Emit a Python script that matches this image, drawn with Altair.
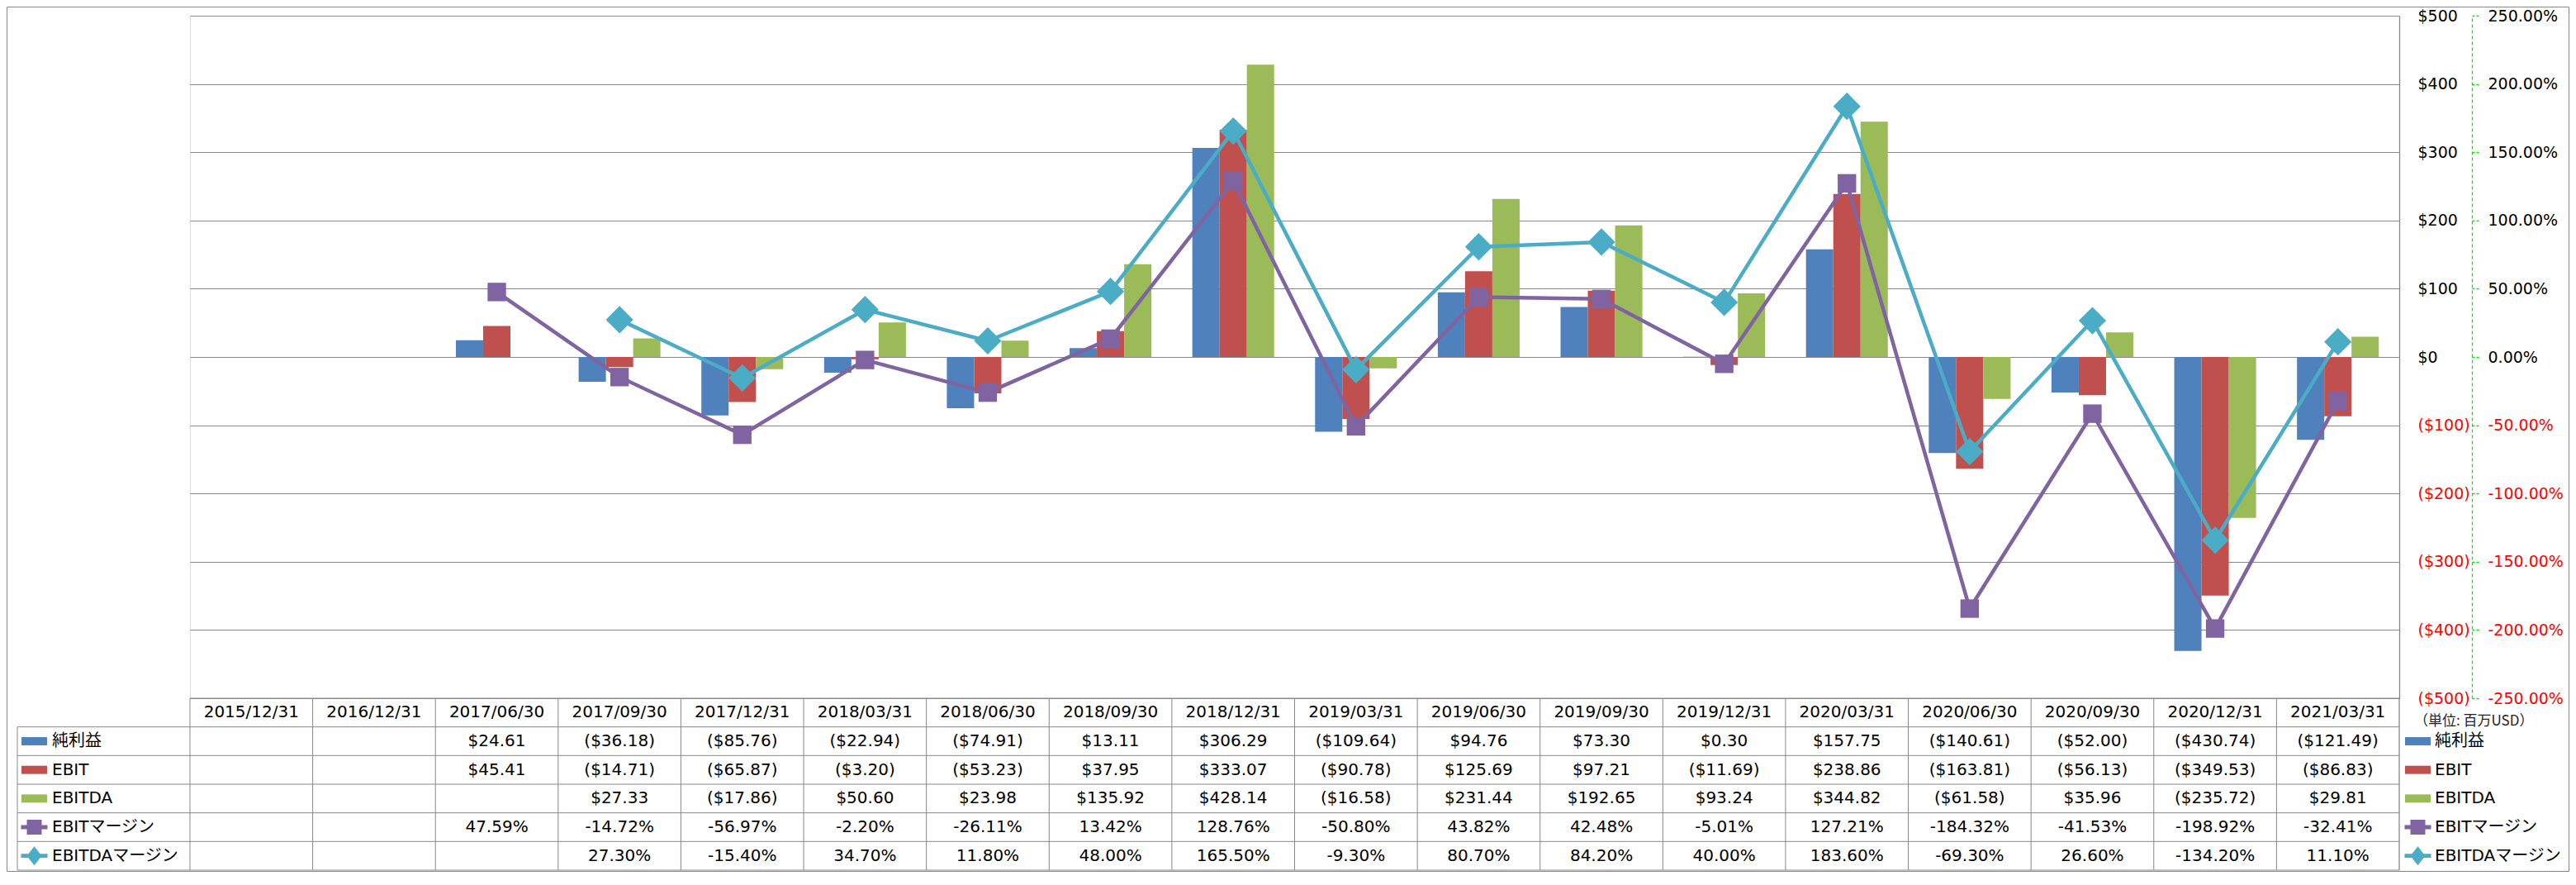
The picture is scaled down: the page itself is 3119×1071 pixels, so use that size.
import altair as alt
import pandas as pd

# ---------------- data ----------------
dates = ["2015/12/31", "2016/12/31", "2017/06/30", "2017/09/30", "2017/12/31",
         "2018/03/31", "2018/06/30", "2018/09/30", "2018/12/31", "2019/03/31",
         "2019/06/30", "2019/09/30", "2019/12/31", "2020/03/31", "2020/06/30",
         "2020/09/30", "2020/12/31", "2021/03/31"]
net_income = [None, None, 24.61, -36.18, -85.76, -22.94, -74.91, 13.11, 306.29, -109.64,
              94.76, 73.30, 0.30, 157.75, -140.61, -52.00, -430.74, -121.49]
ebit = [None, None, 45.41, -14.71, -65.87, -3.20, -53.23, 37.95, 333.07, -90.78,
        125.69, 97.21, -11.69, 238.86, -163.81, -56.13, -349.53, -86.83]
ebitda = [None, None, None, 27.33, -17.86, 50.60, 23.98, 135.92, 428.14, -16.58,
          231.44, 192.65, 93.24, 344.82, -61.58, 35.96, -235.72, 29.81]
ebit_margin = [None, None, 47.59, -14.72, -56.97, -2.20, -26.11, 13.42, 128.76, -50.80,
               43.82, 42.48, -5.01, 127.21, -184.32, -41.53, -198.92, -32.41]
ebitda_margin = [None, None, None, 27.30, -15.40, 34.70, 11.80, 48.00, 165.50, -9.30,
                 80.70, 84.20, 40.00, 183.60, -69.30, 26.60, -134.20, 11.10]

bar_names = ["純利益", "EBIT", "EBITDA"]
margin_names = ["EBITマージン", "EBITDAマージン"]
all_names = bar_names + margin_names
all_colors = ["#4F81BD", "#C0504D", "#9BBB59", "#8064A2", "#4BACC6"]
usd_ticks = [-500, -400, -300, -200, -100, 0, 100, 200, 300, 400, 500]
pct_ticks = [-250, -200, -150, -100, -50, 0, 50, 100, 150, 200, 250]
unit_label = "（単位: 百万USD）"

# ---------------- layout ----------------
W, H = 2675, 826
TH = 208
PAD_L, PAD_R, PAD_T, PAD_B = 222, 206, 11, 210
FONT = "DejaVu Sans, Noto Sans CJK JP, sans-serif"
GRID = "#888888"
LABEL_COL = -209

xscale = alt.Scale(domain=dates, paddingInner=0, paddingOuter=0)
rowscale = alt.Scale(domain=[0, 6], range=[H, H + TH], nice=False, zero=False)
color_scale = alt.Scale(domain=all_names, range=all_colors)

# ---------------- frames ----------------
bar_series = [net_income, ebit, ebitda]
bar_df = pd.DataFrame([
    {"date": d, "series": n, "value": v}
    for n, vals in zip(bar_names, bar_series)
    for d, v in zip(dates, vals) if v is not None
])
margin_series = [ebit_margin, ebitda_margin]
margin_df = pd.DataFrame([
    {"date": d, "series": n, "value": v}
    for n, vals in zip(margin_names, margin_series)
    for d, v in zip(dates, vals) if v is not None
])


def usd(v):
    if v is None:
        return ""
    return f"(${-v:.2f})" if v < 0 else f"${v:.2f}"


def pct(v):
    return "" if v is None else f"{v:.2f}%"


rows = []
for d in dates:
    rows.append({"date": d, "ri": 0.5, "text": d})
for i, vals in enumerate(bar_series):
    for d, v in zip(dates, vals):
        rows.append({"date": d, "ri": i + 1.5, "text": usd(v)})
for i, vals in enumerate(margin_series):
    for d, v in zip(dates, vals):
        rows.append({"date": d, "ri": i + 4.5, "text": pct(v)})
table_df = pd.DataFrame(rows)

legend_df = pd.DataFrame({"series": all_names, "ri": [1.5, 2.5, 3.5, 4.5, 5.5]})

# ---------------- axes ----------------
usd_axis = alt.Axis(
    orient="right", values=usd_ticks, grid=True, gridColor=GRID, gridWidth=1.2,
    domain=True, domainColor=GRID, domainWidth=1.3, ticks=False, tickSize=0,
    labelPadding=22, labelFont=FONT, labelFontSize=19, labelAlign="left",
    labelBaseline="middle", labelFlush=False, labelOverlap=False, title=None,
    labelExpr="datum.value < 0 ? '($' + format(-datum.value, 'd') + ')' : '$' + format(datum.value, 'd')",
    labelColor={"condition": {"test": "datum.value < 0", "value": "#FF0000"}, "value": "#000000"},
)
pct_axis = alt.Axis(
    orient="right", offset=88, values=pct_ticks, grid=False,
    domain=True, domainColor="#00EE00", domainDash=[4, 3], domainWidth=1.3,
    ticks=True, tickColor="#00EE00", tickDash=[3, 2], tickSize=8, tickWidth=1.3,
    labelPadding=11, labelFont=FONT, labelFontSize=19, labelAlign="left",
    labelBaseline="middle", labelFlush=False, labelOverlap=False, title=None,
    labelExpr="(datum.value < 0 ? '-' : '') + format(abs(datum.value), '.2f') + '%'",
    labelColor={"condition": {"test": "datum.value < 0", "value": "#FF0000"}, "value": "#000000"},
)

X = alt.X("date:N", scale=xscale, axis=None)

# ---------------- layers ----------------
bars = alt.Chart(bar_df).mark_bar().encode(
    x=X,
    xOffset=alt.XOffset("series:N", scale=alt.Scale(domain=bar_names, paddingInner=0, paddingOuter=0.75)),
    y=alt.Y("value:Q", scale=alt.Scale(domain=[-500, 500], nice=False), axis=usd_axis),
    color=alt.Color("series:N", scale=color_scale, legend=None),
)

line_layers = []
shapes = {"EBITマージン": ("square", 500), "EBITDAマージン": ("diamond", 1100)}
for k, name in enumerate(margin_names):
    src = alt.Chart(margin_df).transform_filter(alt.datum.series == name)
    yy = alt.Y("value:Q", scale=alt.Scale(domain=[-250, 250], nice=False),
               axis=pct_axis if k == 0 else None)
    ln = src.mark_line(strokeWidth=4.5, strokeJoin="round").encode(
        x=X, y=yy, color=alt.Color("series:N", scale=color_scale, legend=None))
    shp, sz = shapes[name]
    pt = src.mark_point(filled=True, opacity=1, shape=shp, size=sz).encode(
        x=X, y=alt.Y("value:Q", scale=alt.Scale(domain=[-250, 250], nice=False), axis=None),
        color=alt.Color("series:N", scale=color_scale, legend=None))
    line_layers += [ln, pt]

RY = lambda f: alt.Y(f, scale=rowscale, axis=None)

table_text = alt.Chart(table_df).mark_text(
    font=FONT, fontSize=20, align="center", baseline="middle", color="#000000"
).encode(x=X, y=RY("ri:Q"), text="text:N")

vrules = alt.Chart(pd.DataFrame({"date": dates})).transform_calculate(
    top="0", bottom="6"
).mark_rule(color=GRID, strokeWidth=1).encode(
    x=alt.X("date:N", scale=xscale, axis=None, bandPosition=0),
    y=RY("top:Q"), y2="bottom:Q")
vrule_right = alt.Chart(pd.DataFrame({"date": [dates[-1]]})).transform_calculate(
    top="0", bottom="6"
).mark_rule(color=GRID, strokeWidth=1.3).encode(
    x=alt.X("date:N", scale=xscale, axis=None, bandPosition=1),
    y=RY("top:Q"), y2="bottom:Q")
vrule_label = alt.Chart(pd.DataFrame({"top": [1], "bottom": [6]})).mark_rule(
    color=GRID, strokeWidth=1).encode(x=alt.value(LABEL_COL), y=RY("top:Q"), y2="bottom:Q")

hrule_head = alt.Chart(pd.DataFrame({"r": [0]})).mark_rule(color=GRID, strokeWidth=1).encode(
    y=RY("r:Q"))
hrules = alt.Chart(pd.DataFrame({"r": [1, 2, 3, 4, 5, 6]})).mark_rule(
    color=GRID, strokeWidth=1).encode(x=alt.value(LABEL_COL), x2=alt.value(W), y=RY("r:Q"))


def legend_layers(x_sym, x_text):
    base = alt.Chart(legend_df)
    swatch = base.transform_filter(alt.FieldOneOfPredicate(field="series", oneOf=bar_names)).mark_point(
        shape="M-1,-0.32H1V0.32H-1Z", filled=True, opacity=1, size=961
    ).encode(x=alt.value(x_sym), y=RY("ri:Q"),
             color=alt.Color("series:N", scale=color_scale, legend=None))
    seg = base.transform_filter(alt.FieldOneOfPredicate(field="series", oneOf=margin_names)).mark_point(
        shape="M-1,-0.15H1V0.15H-1Z", filled=True, opacity=1, size=1024
    ).encode(x=alt.value(x_sym), y=RY("ri:Q"),
             color=alt.Color("series:N", scale=color_scale, legend=None))
    sq = base.transform_filter(alt.datum.series == margin_names[0]).mark_point(
        shape="square", filled=True, opacity=1, size=324
    ).encode(x=alt.value(x_sym), y=RY("ri:Q"),
             color=alt.Color("series:N", scale=color_scale, legend=None))
    dm = base.transform_filter(alt.datum.series == margin_names[1]).mark_point(
        shape="M-0.78,0L0,-1L0.78,0L0,1Z", filled=True, opacity=1, size=530
    ).encode(x=alt.value(x_sym), y=RY("ri:Q"),
             color=alt.Color("series:N", scale=color_scale, legend=None))
    txt = base.mark_text(font=FONT, fontSize=20, align="left", baseline="middle",
                         color="#000000").encode(x=alt.value(x_text), y=RY("ri:Q"),
                                                 text="series:N")
    return [swatch, seg, sq, dm, txt]


unit = alt.Chart(pd.DataFrame({"t": [unit_label], "ri": [0.8]})).mark_text(
    font="Noto Sans CJK JP, DejaVu Sans, sans-serif", fontSize=17, align="left",
    baseline="middle", color="#222222"
).encode(x=alt.value(W + 18), y=RY("ri:Q"), text="t:N")

frame = alt.Chart(pd.DataFrame({"a": [0]})).mark_rect(
    fillOpacity=0, stroke=GRID, strokeWidth=1
).encode(x=alt.value(-PAD_L + 0.5), x2=alt.value(W + PAD_R - 0.5),
         y=alt.value(-PAD_T + 0.5), y2=alt.value(H + PAD_B - 0.5))

layers = ([frame, bars] + line_layers +
          [vrules, vrule_right, vrule_label, hrule_head, hrules, table_text, unit] +
          legend_layers(-188.5, -167) + legend_layers(W + 22.5, W + 43))

chart = alt.layer(*layers).resolve_scale(y="independent").properties(
    width=W, height=H,
    autosize=alt.AutoSizeParams(type="none"),
    padding={"left": PAD_L, "right": PAD_R, "top": PAD_T, "bottom": PAD_B},
).configure_view(stroke=None).configure(background="white")

chart.save("out.html", embed_options={"renderer": "svg", "actions": False})
